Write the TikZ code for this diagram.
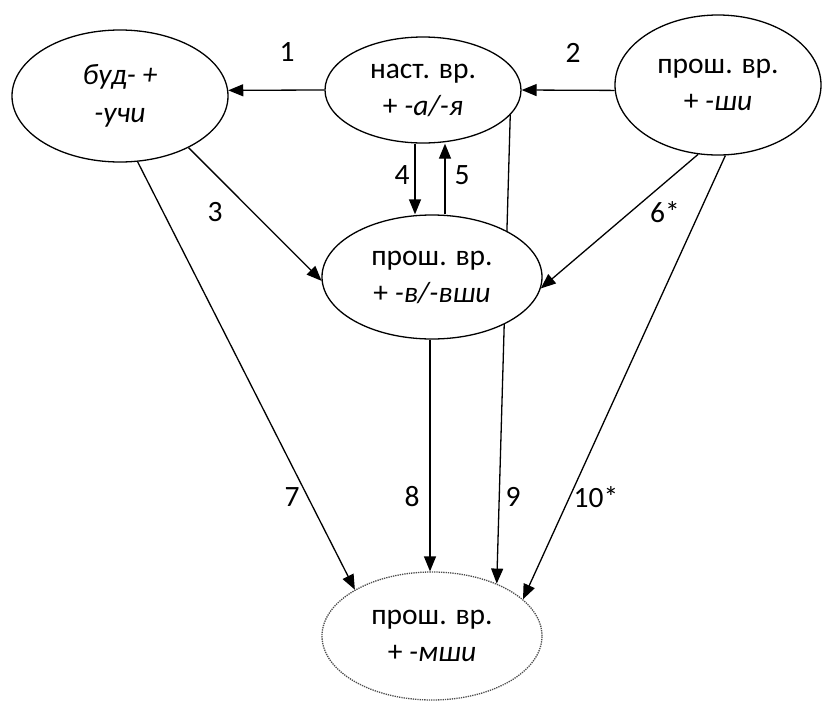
\documentclass[tikz,border=0pt]{standalone}
\usepackage{fontspec}
\setmainfont{Carlito}
\usetikzlibrary{shapes.geometric,arrows.meta}
\pgfdeclarelayer{background}
\pgfsetlayers{background,main}
\begin{document}
\begin{tikzpicture}[x=1pt,y=-1pt,
  ell/.style={ellipse,draw,fill=white,inner sep=0pt,line width=1.3pt,align=center,
    font=\fontsize{29.5}{37}\selectfont},
  arr/.style={line width=1.3pt,-{Triangle[length=15pt,width=12pt]}},
  lbl/.style={font=\fontsize{29.5}{32}\selectfont,inner sep=0pt}]
\useasboundingbox (0,0) rectangle (823,702);

\node[ell,minimum width=216pt,minimum height=132pt] (bud) at (120,96)
  {\textit{буд- +}\\[1pt]\textit{-учи}};
\node[ell,minimum width=196pt,minimum height=106pt] (nast) at (423,90)
  {наст. вр.\\+ \textit{-а/-я}};
\node[ell,minimum width=206pt,minimum height=140pt] (shi) at (718,85)
  {прош. вр.\\+ \textit{-ши}};
\node[ell,minimum width=220pt,minimum height=124pt] (mid) at (432,277)
  {прош. вр.\\+ \textit{-в/-вши}};
\node[ell,draw=black!70,densely dotted,minimum width=220pt,minimum height=128pt] (mshi) at (432,636)
  {прош. вр.\\+ \textit{-мши}};

\begin{pgfonlayer}{background}
\draw[arr] (nast.-16) -- (mshi.39);
\end{pgfonlayer}

\draw[arr] (nast.west) -- (bud.3);
\draw[arr] (shi.183) -- (nast.east);
\draw[arr] (bud.-37) -- (mid.182);
\draw[arr] ([xshift=-8pt]nast.south) -- ([xshift=-17pt]mid.north);
\draw[arr] ([xshift=13pt]mid.north) -- ([xshift=22pt]nast.south);
\draw[arr] (shi.-106) -- (mid.-6);
\draw[arr] (bud.-75) -- (mshi.149);
\draw[arr] ([xshift=-2pt]mid.south) -- ([xshift=-2pt]mshi.north);
\draw[arr] (shi.-84) -- (mshi.22);

\node[lbl] (l1) at (287,52) {1};
\node[lbl] (l2) at (573,53) {2};
\node[lbl] (l3) at (215,212) {3};
\node[lbl] (l4) at (402,175) {4};
\node[lbl] (l5) at (462,175) {5};
\node[lbl] (l6) at (665,212) {6*};
\node[lbl] (l7) at (292,497) {7};
\node[lbl] (l8) at (412,497) {8};
\node[lbl] (l9) at (513,497) {9};
\node[lbl] (l10) at (596,497) {10*};
\end{tikzpicture}
\end{document}
